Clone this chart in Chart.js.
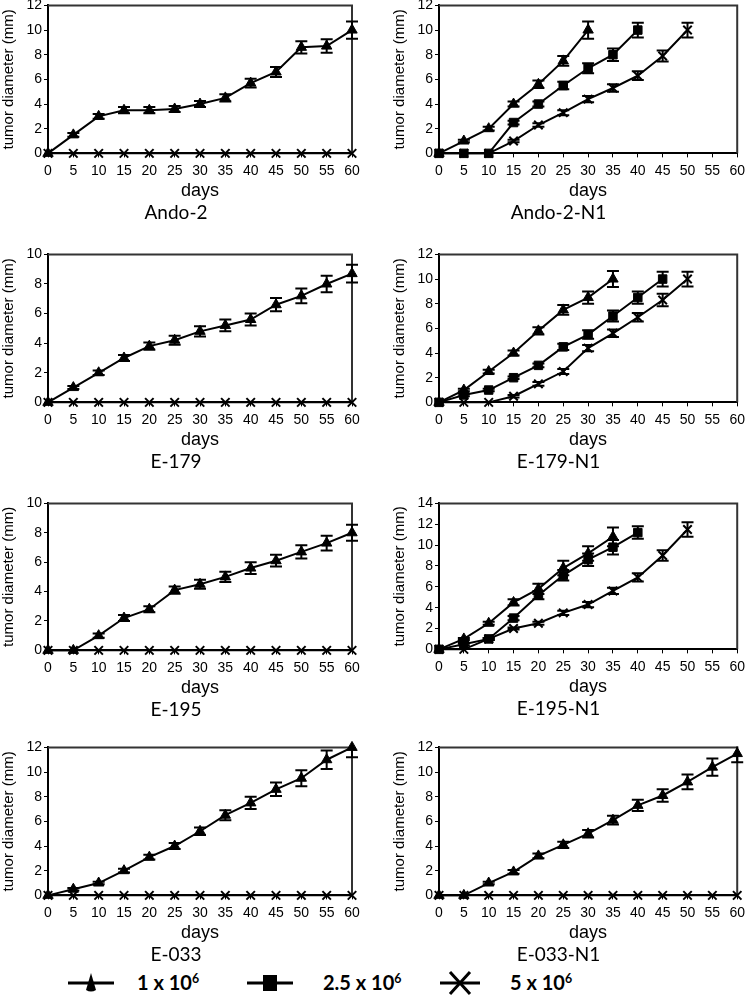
<!DOCTYPE html>
<html>
<head>
<meta charset="utf-8">
<script src="https://cdn.jsdelivr.net/npm/chart.js@4.4.0/dist/chart.umd.min.js"></script>
<style>
  body { margin: 0; background: #fff; width: 750px; height: 995px; position: relative; overflow: hidden; }
  canvas.panel { position: absolute; }
  .leg { position: absolute; top: 970px; height: 26px; }
  .leg canvas { position: absolute; left: 0; top: 0; }
  .leg span { position: absolute; top: 0; line-height: 26px; white-space: nowrap;
    font: bold 20px Lato, 'Open Sans', sans-serif; color: #000; }
  .leg sup { font-size: 0.62em; vertical-align: 0.55em; line-height: 0; }
</style>
</head>
<body>
<script>
// days on the x axis, shared by every panel
const days = [0, 5, 10, 15, 20, 25, 30, 35, 40, 45, 50, 55, 60];

// Ando-2
const ando2Tri    = [0, 1.5, 3.0, 3.5, 3.5, 3.6, 4.0, 4.5, 5.7, 6.6, 8.6, 8.7, 10.0];
const ando2TriErr = [0, 0.15, 0.2, 0.25, 0.25, 0.25, 0.25, 0.3, 0.35, 0.4, 0.5, 0.55, 0.7];
const ando2Cross  = [0, 0, 0, 0, 0, 0, 0, 0, 0, 0, 0, 0, 0];

// Ando-2-N1
const ando2n1Tri      = [0, 1.0, 2.0, 4.0, 5.6, 7.5, 10.0];
const ando2n1TriErr   = [0, 0.1, 0.15, 0.2, 0.3, 0.4, 0.7];
const ando2n1Sq       = [0, 0, 0, 2.5, 4.0, 5.5, 6.9, 8.0, 10.0];
const ando2n1SqErr    = [0, 0, 0, 0.15, 0.2, 0.3, 0.4, 0.5, 0.6];
const ando2n1Cross    = [0, 0, 0, 1.0, 2.3, 3.3, 4.4, 5.3, 6.3, 7.9, 10.0];
const ando2n1CrossErr = [0, 0, 0, 0.1, 0.15, 0.2, 0.25, 0.3, 0.35, 0.45, 0.6];

// E-179
const e179Tri    = [0, 1.0, 2.0, 3.0, 3.8, 4.2, 4.8, 5.2, 5.6, 6.6, 7.2, 8.0, 8.7];
const e179TriErr = [0, 0.1, 0.15, 0.2, 0.25, 0.3, 0.35, 0.4, 0.4, 0.45, 0.5, 0.55, 0.6];
const e179Cross  = [0, 0, 0, 0, 0, 0, 0, 0, 0, 0, 0, 0, 0];

// E-179-N1
const e179n1Tri      = [0, 1.0, 2.5, 4.0, 5.8, 7.5, 8.5, 10.0];
const e179n1TriErr   = [0, 0.1, 0.15, 0.2, 0.3, 0.4, 0.5, 0.65];
const e179n1Sq       = [0, 0.6, 1.0, 2.0, 3.0, 4.5, 5.5, 7.0, 8.5, 10.0];
const e179n1SqErr    = [0, 0.1, 0.1, 0.1, 0.15, 0.25, 0.35, 0.45, 0.5, 0.6];
const e179n1Cross    = [0, 0, 0, 0.5, 1.5, 2.5, 4.4, 5.6, 6.9, 8.3, 10.0];
const e179n1CrossErr = [0, 0, 0, 0.1, 0.15, 0.2, 0.25, 0.3, 0.35, 0.5, 0.6];

// E-195
const e195Tri    = [0, 0, 1.0, 2.2, 2.8, 4.1, 4.5, 5.0, 5.6, 6.1, 6.7, 7.3, 8.0];
const e195TriErr = [0, 0, 0.15, 0.2, 0.2, 0.25, 0.3, 0.35, 0.4, 0.4, 0.45, 0.5, 0.55];
const e195Cross  = [0, 0, 0, 0, 0, 0, 0, 0, 0, 0, 0, 0, 0];

// E-195-N1
const e195n1Tri      = [0, 1.0, 2.5, 4.5, 5.8, 7.8, 9.2, 10.8];
const e195n1TriErr   = [0, 0.1, 0.15, 0.3, 0.5, 0.7, 0.7, 0.9];
const e195n1Sq       = [0, 0.5, 1.0, 3.0, 5.2, 7.1, 8.6, 9.8, 11.2];
const e195n1SqErr    = [0, 0.1, 0.1, 0.2, 0.4, 0.5, 0.6, 0.7, 0.6];
const e195n1Cross    = [0, 0, 1.0, 2.0, 2.5, 3.5, 4.3, 5.6, 6.9, 9.0, 11.5];
const e195n1CrossErr = [0, 0, 0.1, 0.1, 0.15, 0.2, 0.25, 0.3, 0.4, 0.5, 0.7];

// E-033
const e033Tri    = [0, 0.5, 1.0, 2.0, 3.1, 4.0, 5.2, 6.5, 7.5, 8.6, 9.5, 11.0, 12.0];
const e033TriErr = [0, 0.1, 0.1, 0.15, 0.2, 0.25, 0.3, 0.4, 0.5, 0.55, 0.65, 0.75, 0.8];
const e033Cross  = [0, 0, 0, 0, 0, 0, 0, 0, 0, 0, 0, 0, 0];

// E-033-N1
const e033n1Tri    = [0, 0, 1.0, 1.9, 3.2, 4.1, 5.0, 6.1, 7.3, 8.1, 9.2, 10.4, 11.5];
const e033n1TriErr = [0, 0, 0.1, 0.15, 0.2, 0.25, 0.3, 0.35, 0.45, 0.5, 0.6, 0.7, 0.7];
const e033n1Cross  = [0, 0, 0, 0, 0, 0, 0, 0, 0, 0, 0, 0, 0];

const panelNames = ["Ando-2", "Ando-2-N1", "E-179", "E-179-N1", "E-195", "E-195-N1", "E-033", "E-033-N1"];
const panelMax = [12, 12, 10, 12, 10, 14, 12, 12];
const legendLabels = ["1 x 10", "2.5 x 10", "5 x 10"];

const panelSeries = [
  [["tri", ando2Tri, ando2TriErr], ["cross", ando2Cross, null]],
  [["tri", ando2n1Tri, ando2n1TriErr], ["sq", ando2n1Sq, ando2n1SqErr], ["cross", ando2n1Cross, ando2n1CrossErr]],
  [["tri", e179Tri, e179TriErr], ["cross", e179Cross, null]],
  [["tri", e179n1Tri, e179n1TriErr], ["sq", e179n1Sq, e179n1SqErr], ["cross", e179n1Cross, e179n1CrossErr]],
  [["tri", e195Tri, e195TriErr], ["cross", e195Cross, null]],
  [["tri", e195n1Tri, e195n1TriErr], ["sq", e195n1Sq, e195n1SqErr], ["cross", e195n1Cross, e195n1CrossErr]],
  [["tri", e033Tri, e033TriErr], ["cross", e033Cross, null]],
  [["tri", e033n1Tri, e033n1TriErr], ["cross", e033n1Cross, null]]
];

// plot box top / bottom in page pixels for each panel
const plotTops = [5, 5, 254, 254, 503, 503, 747, 747];
const plotBottoms = [153, 153, 402, 402, 650, 649, 895, 895];

const AXIS_FONT = "'Liberation Sans', Arial, sans-serif";
const NAME_FONT = "Lato, 'Open Sans', sans-serif";

const markers = {
  tri:   { pointStyle: "triangle", pointRadius: 6 },
  sq:    { pointStyle: "rect", pointRadius: 6 },
  cross: { pointStyle: "crossRot", pointRadius: 6 }
};

const errorBars = {
  id: "errorBars",
  afterDatasetsDraw(chart) {
    const ctx = chart.ctx, ys = chart.scales.y, a = chart.chartArea;
    ctx.save();
    ctx.beginPath();
    ctx.rect(a.left - 10, a.top - 1, a.right - a.left + 20, a.bottom - a.top + 10);
    ctx.clip();
    ctx.strokeStyle = "#000";
    ctx.lineWidth = 2;
    chart.data.datasets.forEach((ds, di) => {
      if (!ds.err) return;
      const meta = chart.getDatasetMeta(di);
      ds.data.forEach((v, i) => {
        const e = ds.err[i];
        if (v == null || !e) return;
        const px = meta.data[i].x;
        const top = ys.getPixelForValue(v + e), bot = ys.getPixelForValue(v - e);
        ctx.beginPath();
        ctx.moveTo(px, top); ctx.lineTo(px, bot);
        ctx.moveTo(px - 6, top); ctx.lineTo(px + 6, top);
        ctx.moveTo(px - 6, bot); ctx.lineTo(px + 6, bot);
        ctx.stroke();
      });
    });
    ctx.restore();
  }
};

// top and right edges of the plot box
const frame = {
  id: "frame",
  beforeDatasetsDraw(chart) {
    const ctx = chart.ctx, a = chart.chartArea;
    ctx.save();
    ctx.strokeStyle = "#333";
    ctx.lineWidth = 2;
    ctx.beginPath();
    ctx.moveTo(a.left, a.top);
    ctx.lineTo(a.right, a.top);
    ctx.lineTo(a.right, a.bottom);
    ctx.stroke();
    ctx.restore();
  }
};

function makePanel(idx) {
  const right = idx % 2 === 1;
  const yW = right ? 64 : 48;
  const padTop = 10;
  const bottomBlock = 71;
  const top = plotTops[idx] - padTop;
  const height = padTop + (plotBottoms[idx] - plotTops[idx]) + bottomBlock;

  const cv = document.createElement("canvas");
  cv.className = "panel";
  cv.width = 375;
  cv.height = height;
  cv.style.left = (right ? 375 : 0) + "px";
  cv.style.top = top + "px";
  document.body.appendChild(cv);

  const datasets = panelSeries[idx].map(([kind, values, err]) => ({
    data: values,
    err: err,
    borderColor: "#000",
    backgroundColor: "#000",
    borderWidth: 2,
    pointBackgroundColor: "#000",
    pointBorderColor: "#000",
    pointBorderWidth: kind === "cross" ? 2 : 1,
    pointStyle: markers[kind].pointStyle,
    pointRadius: markers[kind].pointRadius,
    tension: 0,
    clip: false
  }));

  new Chart(cv, {
    type: "line",
    data: { labels: days, datasets: datasets },
    options: {
      responsive: false,
      animation: false,
      devicePixelRatio: 1,
      layout: { padding: { top: padTop, left: 0, right: right ? 8 : 23, bottom: 0 } },
      plugins: {
        legend: { display: false },
        tooltip: { enabled: false },
        title: {
          display: true,
          position: "bottom",
          text: panelNames[idx],
          color: "#000",
          font: { family: NAME_FONT, size: 19, weight: "normal", lineHeight: 1.2 },
          padding: { top: 3, bottom: 0 }
        }
      },
      scales: {
        x: {
          type: "category",
          offset: false,
          grid: { display: true, drawOnChartArea: false, tickLength: 4, color: "#000", lineWidth: 1 },
          border: { color: "#000", width: 2 },
          ticks: { color: "#000", font: { family: AXIS_FONT, size: 14 }, padding: 5, autoSkip: false, maxRotation: 0 },
          title: { display: true, text: "days", color: "#000", font: { family: AXIS_FONT, size: 18, lineHeight: 0.78 }, padding: 0 }
        },
        y: {
          min: 0,
          max: panelMax[idx],
          grid: { display: true, drawOnChartArea: false, tickLength: 4, color: "#000", lineWidth: 1 },
          border: { color: "#000", width: 2 },
          ticks: { stepSize: 2, color: "#000", font: { family: AXIS_FONT, size: 14 }, padding: 2 },
          title: { display: true, text: "tumor diameter (mm)", color: "#000",
                   font: { family: AXIS_FONT, size: 15, lineHeight: 1.2 },
                   padding: { top: right ? 16 : 0, bottom: 0 } },
          afterFit: s => { s.width = yW; }
        }
      }
    },
    plugins: [frame, errorBars]
  });
}

for (let i = 0; i < 8; i++) makePanel(i);

// shared legend under the panels
const legendSpots = [
  { left: 66, width: 50, text: 137, kind: "tri" },
  { left: 245, width: 50, text: 323, kind: "sq" },
  { left: 438, width: 44, text: 510, kind: "cross" }
];

legendSpots.forEach((spot, i) => {
  const box = document.createElement("div");
  box.className = "leg";
  box.style.left = spot.left + "px";
  box.style.width = (spot.text - spot.left + 90) + "px";
  const c = document.createElement("canvas");
  c.width = spot.width;
  c.height = 26;
  box.appendChild(c);
  const t = document.createElement("span");
  t.style.left = (spot.text - spot.left) + "px";
  t.innerHTML = legendLabels[i] + "<sup>6</sup>";
  box.appendChild(t);
  document.body.appendChild(box);

  const g = c.getContext("2d");
  const cx = spot.width / 2, cy = 13;
  g.strokeStyle = "#000";
  g.fillStyle = "#000";
  g.lineWidth = 3;
  g.beginPath(); g.moveTo(2, cy); g.lineTo(spot.width - 2, cy); g.stroke();
  if (spot.kind === "tri") {
    g.beginPath();
    g.moveTo(cx, cy - 10);
    g.lineTo(cx + 5, cy + 7);
    g.quadraticCurveTo(cx, cy + 10, cx - 5, cy + 7);
    g.closePath();
    g.fill();
  } else if (spot.kind === "sq") {
    g.fillRect(cx - 7, cy - 8, 14, 16);
  } else {
    g.lineWidth = 3;
    g.beginPath();
    g.moveTo(cx - 10, cy - 11); g.lineTo(cx + 10, cy + 11);
    g.moveTo(cx + 10, cy - 11); g.lineTo(cx - 10, cy + 11);
    g.stroke();
  }
});
</script>
</body>
</html>
